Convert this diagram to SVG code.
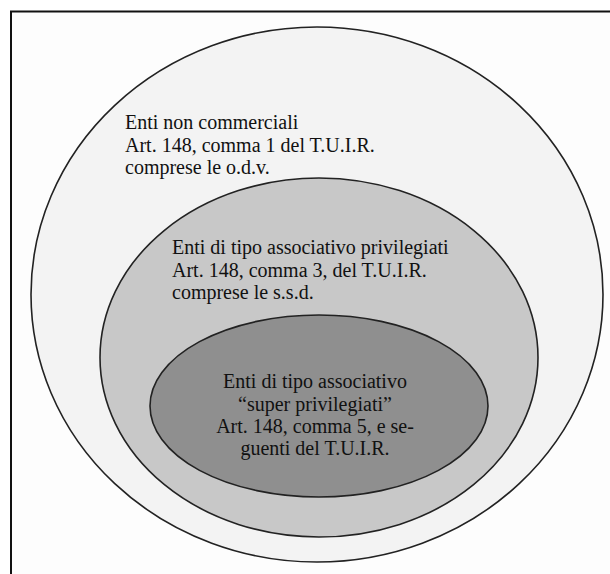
<svg xmlns="http://www.w3.org/2000/svg" width="610" height="574" viewBox="0 0 610 574">
<style>
.sh{stroke:#222;stroke-width:1.6}
.t{font-family:"Liberation Serif","Times New Roman",serif;font-size:20px;fill:#111}
.c{text-anchor:middle}
</style>
<rect x="0" y="0" width="610" height="574" fill="#ffffff"/>
<rect id="frame" x="11" y="11.5" width="620" height="600" fill="#fdfdfd" stroke="#111" stroke-width="2"/>
<g id="outer">
<ellipse class="sh" cx="317" cy="294.5" rx="286" ry="267.5" fill="#f3f3f3"/>
<text class="t" x="125" y="129">Enti non commerciali</text>
<text class="t" x="125" y="152">Art. 148, comma 1 del T.U.I.R.</text>
<text class="t" x="125" y="174">comprese le o.d.v.</text>
</g>
<g id="middle">
<ellipse class="sh" cx="319" cy="357.5" rx="219" ry="179.5" fill="#c8c8c8"/>
<text class="t" x="172" y="254">Enti di tipo associativo privilegiati</text>
<text class="t" x="172" y="277">Art. 148, comma 3, del T.U.I.R.</text>
<text class="t" x="172" y="299">comprese le s.s.d.</text>
</g>
<g id="inner">
<ellipse class="sh" cx="319" cy="406" rx="169" ry="91" fill="#8f8f8f"/>
<text class="t c" x="315" y="388">Enti di tipo associativo</text>
<text class="t c" x="315" y="411">“super privilegiati”</text>
<text class="t c" x="315" y="433">Art. 148, comma 5, e se-</text>
<text class="t c" x="315" y="455">guenti del T.U.I.R.</text>
</g>
<g id="connectors"></g>
</svg>
